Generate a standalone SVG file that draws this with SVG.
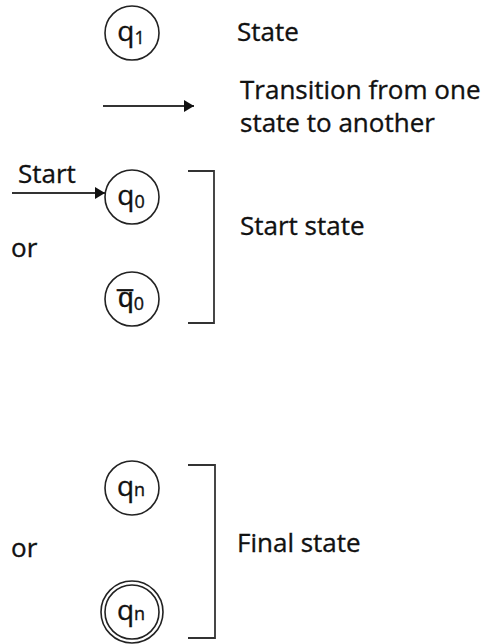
<svg xmlns="http://www.w3.org/2000/svg" width="494" height="644" viewBox="0 0 494 644">
<defs>
<style>
.lbl{font-family:"Open Sans","Liberation Sans",sans-serif;font-size:26px;fill:#111;stroke:#111;stroke-width:0.35}
.q{font-family:"Open Sans","Liberation Sans",sans-serif;font-size:28px;fill:#111;stroke:#111;stroke-width:0.35;text-anchor:middle}
.sub{font-size:18px}
.st{fill:#fff;stroke:#222;stroke-width:1.6}
.ln{fill:none;stroke:#333;stroke-width:1.8}
</style>
<marker id="ah" viewBox="0 0 10 12" refX="10" refY="6" markerWidth="10" markerHeight="12" markerUnits="userSpaceOnUse" orient="auto">
<path d="M0,0 L10,6 L0,12 z" fill="#111"/>
</marker>
</defs>
<rect width="494" height="644" fill="#fff"/>

<g id="connectors">
<line class="ln" x1="103" y1="106" x2="194" y2="106" marker-end="url(#ah)"/>
<line class="ln" x1="12" y1="193" x2="105" y2="193" marker-end="url(#ah)"/>
<polyline class="ln" points="188,171 214,171 214,323 188,323"/>
<polyline class="ln" points="188,465 215,465 215,638 188,638"/>
</g>

<g id="node-q1">
<circle class="st" cx="132" cy="33" r="27"/>
<text class="q" x="131" y="41">q<tspan class="sub" dy="3">1</tspan></text>
</g>
<g id="node-q0">
<circle class="st" cx="132" cy="197" r="27"/>
<text class="q" x="131" y="205">q<tspan class="sub" dy="3">0</tspan></text>
</g>
<g id="node-q0bar">
<circle class="st" cx="132" cy="299" r="27"/>
<text class="q" x="131" y="307">q̅<tspan class="sub" dy="3">0</tspan></text>
</g>
<g id="node-qn">
<circle class="st" cx="132" cy="488" r="27"/>
<text class="q" x="131" y="496">q<tspan class="sub">n</tspan></text>
</g>
<g id="node-qn-final">
<circle class="st" cx="132" cy="612" r="31"/>
<circle class="st" cx="132" cy="612" r="27"/>
<text class="q" x="131" y="620">q<tspan class="sub">n</tspan></text>
</g>

<g id="labels">
<text class="lbl" x="237" y="41">State</text>
<text class="lbl" x="240" y="99">Transition from one</text>
<text class="lbl" x="240" y="132">state to another</text>
<text class="lbl" x="18" y="183">Start</text>
<text class="lbl" x="11" y="257">or</text>
<text class="lbl" x="240" y="235">Start state</text>
<text class="lbl" x="11" y="557">or</text>
<text class="lbl" x="237" y="552">Final state</text>
</g>
</svg>
